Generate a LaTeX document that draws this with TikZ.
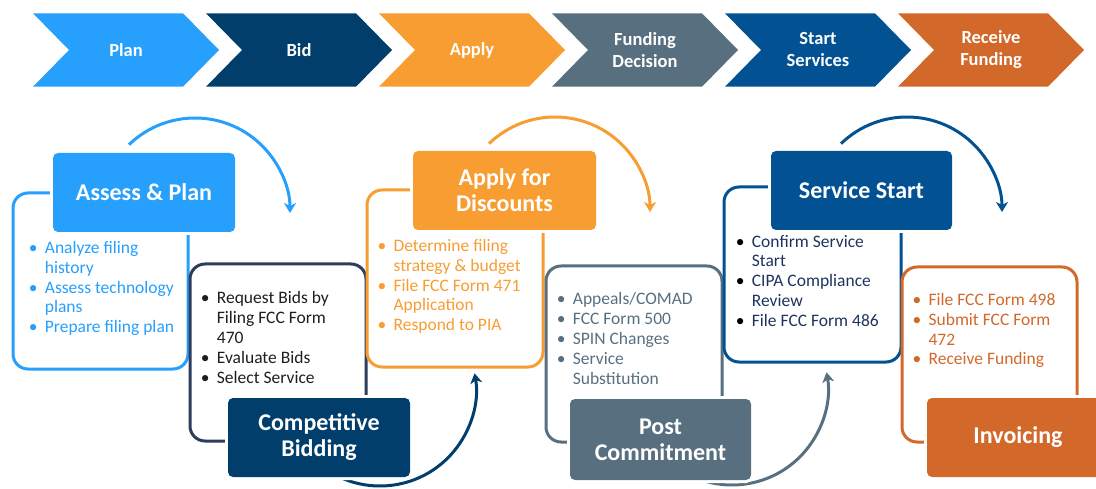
\documentclass[tikz,border=0pt]{standalone}
\usepackage{fontspec}
\setmainfont{Carlito}
\usetikzlibrary{arrows.meta}
\definecolor{cplan}{RGB}{38,159,253}
\definecolor{cbid}{RGB}{1,62,108}
\definecolor{cbidframe}{RGB}{46,61,94}
\definecolor{capply}{RGB}{247,157,49}
\definecolor{cfund}{RGB}{88,111,128}
\definecolor{cstart}{RGB}{2,82,147}
\definecolor{cstarttext}{RGB}{30,52,95}
\definecolor{crecv}{RGB}{210,104,42}
\definecolor{ctext}{RGB}{30,30,30}
\newcommand\myb{\makebox[11.7pt][l]{\makebox[0pt][c]{\textbullet}}}
\newcommand\mybk{\makebox[11.7pt][l]{\makebox[0pt][c]{\color{black}\textbullet}}}
\newcommand\myind{\hspace*{11.7pt}}
\tikzset{
  chevlabel/.style={text=white, font=\bfseries\fontsize{18.5}{22}\selectfont, align=center, inner sep=0pt},
  frame/.style={draw=#1, line width=3pt, rounded corners=15pt},
  header/.style={fill=#1, rounded corners=5pt, preaction={draw=white, line width=6pt},
    text=white, font=\bfseries\fontsize{24}{26}\selectfont, align=center, inner sep=0pt},
  bullets/.style={anchor=base west, inner sep=0pt, text=#1, font=\fontsize{17.5}{19.8}\selectfont},
  flow/.style={draw=#1, line width=3pt, -{Stealth[length=10pt,width=12pt,inset=3pt]}},
}
\begin{document}
\begin{tikzpicture}[x=1pt,y=-1pt]
\useasboundingbox (0,0) rectangle (1096,489);
\clip (0,0) rectangle (1096,489);

% chevrons
\foreach \k/\col/\lab in {0/cplan/Plan, 1/cbid/Bid, 2/capply/Apply, 3/cfund/{Funding\\Decision}, 4/cstart/{Start\\Services}, 5/crecv/{Receive\\Funding}}{
  \pgfmathsetmacro{\L}{33+173*\k}
  \fill[\col] (\L,13.3) -- ++(150,0) -- ++(36,36.7) -- ++(-36,36.7) -- ++(-150,0) -- ++(36,-36.7) -- cycle;
  \node[chevlabel] (chev\k) at (\L+93,50) {\lab};
}

% frames
\draw[frame=cplan] (13,193) rectangle (188,369);
\draw[frame=cbidframe] (190,264) rectangle (366,441);
\draw[frame=capply] (367,190) rectangle (543,367);
\draw[frame=cfund] (546,266) rectangle (722,442);
\draw[frame=cstart] (724,187) rectangle (901,362);
\draw[frame=crecv] (902,267) rectangle (1077,442);

% arc centres
\coordinate (c1) at (195,213);
\coordinate (c2) at (380,390);
\coordinate (c3) at (555,212);
\coordinate (c4) at (732,389);
\coordinate (c5) at (907,212);

% arcs
\draw[flow=cplan] (c1) ++(226:95) arc[start angle=226, end angle=360, radius=95];
\draw[flow=cbid] (c2) ++(130:96) arc[start angle=130, end angle=-10, radius=96];
\draw[flow=capply] (c3) ++(226:95) arc[start angle=226, end angle=360, radius=95];
\draw[flow=cfund] (c4) ++(130:96) arc[start angle=130, end angle=-10, radius=96];
\draw[flow=cstart] (c5) ++(226:95) arc[start angle=226, end angle=360, radius=95];

% headers
\node[header=cplan, minimum width=182pt, minimum height=79pt] (hassess) at (144,192.5) {Assess \& Plan};
\node[header=cbid, minimum width=182pt, minimum height=79pt] (hbid) at (319,437.5) {Competitive\\Bidding};
\node[header=capply, minimum width=183pt, minimum height=79pt] (happly) at (504.5,190.5) {Apply for\\Discounts};
\node[header=cfund, minimum width=181pt, minimum height=81pt] (hpost) at (660.5,439.5) {Post\\Commitment};
\node[header=cstart, minimum width=181pt, minimum height=79pt] (hstart) at (861.5,190.5) {Service Start};
\node[header=crecv, minimum width=182pt, minimum height=79pt] (hinv) at (1018,437.5) {Invoicing};

% bullet lists
\node[bullets=cplan] (tassess) at (33,253.5) {\begin{tabular}[t]{@{}l@{}}
\myb Analyze filing\\ \myind history\\ \myb Assess technology\\ \myind plans\\ \myb Prepare filing plan\end{tabular}};
\node[bullets=ctext] (tbid) at (205,304) {\begin{tabular}[t]{@{}l@{}}
\myb Request Bids by\\ \myind Filing FCC Form\\ \myind 470\\ \myb Evaluate Bids\\ \myb Select Service\end{tabular}};
\node[bullets=capply] (tapply) at (381.7,251.5) {\begin{tabular}[t]{@{}l@{}}
\myb Determine filing\\ \myind strategy \& budget\\ \myb File FCC Form 471\\ \myind Application\\ \myb Respond to PIA\end{tabular}};
\node[bullets=cfund] (tpost) at (561,305) {\begin{tabular}[t]{@{}l@{}}
\myb Appeals/COMAD\\ \myb FCC Form 500\\ \myb SPIN Changes\\ \myb Service\\ \myind Substitution\end{tabular}};
\node[bullets=cstarttext] (tstart) at (740,247.2) {\begin{tabular}[t]{@{}l@{}}
\mybk Confirm Service\\ \myind Start\\ \mybk CIPA Compliance\\ \myind Review\\ \mybk File FCC Form 486\end{tabular}};
\node[bullets=crecv] (tinv) at (916.7,305.5) {\begin{tabular}[t]{@{}l@{}}
\myb File FCC Form 498\\ \myb Submit FCC Form\\ \myind 472\\ \myb Receive Funding\end{tabular}};
\end{tikzpicture}
\end{document}
